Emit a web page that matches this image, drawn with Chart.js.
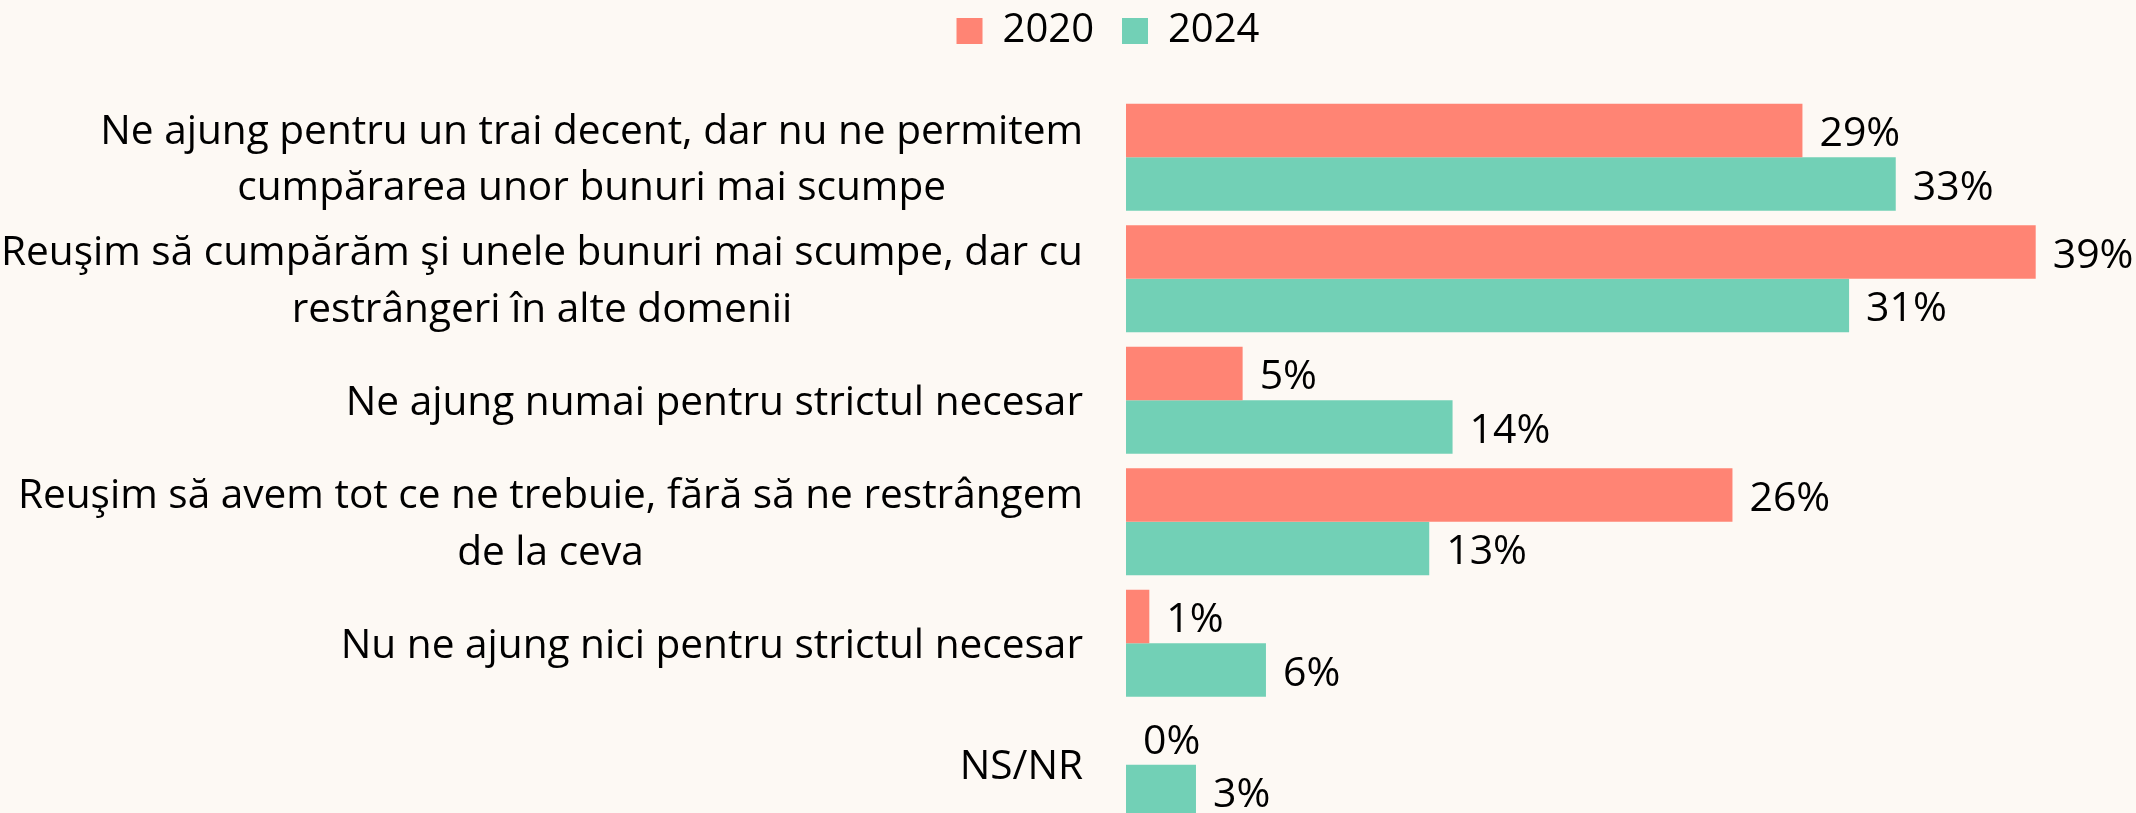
<!DOCTYPE html>
<html>
<head>
<meta charset="utf-8">
<script src="https://cdn.jsdelivr.net/npm/chart.js@4.4.1/dist/chart.umd.min.js"></script>
<style>
  html, body { margin: 0; padding: 0; background: #fdf9f4; overflow: hidden; }
  #wrap { width: 2136px; height: 840px; position: relative; }
</style>
</head>
<body>
<div id="wrap"><canvas id="chart"></canvas></div>
<script>
// Datos
const categories = [
  ['Ne ajung pentru un trai decent, dar nu ne permitem', 'cumpărarea unor bunuri mai scumpe'],
  ['Reuşim să cumpărăm şi unele bunuri mai scumpe, dar cu', 'restrângeri în alte domenii'],
  ['Ne ajung numai pentru strictul necesar'],
  ['Reuşim să avem tot ce ne trebuie, fără să ne restrângem', 'de la ceva'],
  ['Nu ne ajung nici pentru strictul necesar'],
  ['NS/NR']
];
const years      = ['2020', '2024'];
const values2020 = [29, 39, 5, 26, 1, 0];
const values2024 = [33, 31, 14, 13, 6, 3];

const COLORS = ['#ff8474', '#72d0b6'];
const FONT   = '"Open Sans", "Noto Sans", sans-serif';
const LEGEND_PAD = 28;
const TOP_PAD = 11 - LEGEND_PAD;

// legend box height fixed so the plot starts where the original does
const legendHeight = {
  id: 'legendHeight',
  beforeLayout(chart) {
    const lg = chart.legend;
    if (!lg || lg._patched) return;
    const fit = lg.fit;
    lg.fit = function () {
      fit.call(this);
      this.height = 96.5 - TOP_PAD;
    };
    lg._patched = true;
  }
};

// category labels: block right aligned, lines centered inside the block
const sideLabels = {
  id: 'sideLabels',
  afterDraw(chart) {
    const ctx = chart.ctx, y = chart.scales.y;
    const right = chart.chartArea.left - 43;
    ctx.save();
    ctx.font = '40.6px ' + FONT;
    ctx.fillStyle = '#000';
    ctx.textAlign = 'center';
    ctx.textBaseline = 'middle';
    categories.forEach((lines, i) => {
      const cy = y.getPixelForTick(i);
      const w = Math.max(...lines.map(l => ctx.measureText(l).width));
      const cx = right - w / 2;
      lines.forEach((l, j) => {
        ctx.fillText(l, cx, cy + (j - (lines.length - 1) / 2) * 56.5 + 3);
      });
    });
    ctx.restore();
  }
};

// value labels after each bar
const valueLabels = {
  id: 'valueLabels',
  afterDatasetsDraw(chart) {
    const ctx = chart.ctx;
    ctx.save();
    ctx.font = '41px ' + FONT;
    ctx.fillStyle = '#000';
    ctx.textAlign = 'left';
    ctx.textBaseline = 'middle';
    chart.data.datasets.forEach((ds, di) => {
      chart.getDatasetMeta(di).data.forEach((bar, i) => {
        ctx.fillText(ds.data[i] + '%', bar.x + 17, bar.y + 4);
      });
    });
    ctx.restore();
  }
};

new Chart(document.getElementById('chart'), {
  type: 'bar',
  data: {
    labels: categories,
    datasets: [
      { label: years[0], data: values2020, backgroundColor: COLORS[0], borderWidth: 0 },
      { label: years[1], data: values2024, backgroundColor: COLORS[1], borderWidth: 0 }
    ]
  },
  options: {
    indexAxis: 'y',
    responsive: true,
    maintainAspectRatio: false,
    animation: false,
    datasets: { bar: { barPercentage: 1, categoryPercentage: 0.88 } },
    layout: { padding: { top: TOP_PAD, left: 80, right: 0, bottom: 14.5 } },
    plugins: {
      tooltip: { enabled: false },
      legend: {
        position: 'top',
        labels: {
          font: { size: 40, family: FONT },
          color: '#000',
          boxWidth: 26,
          boxHeight: 26,
          padding: LEGEND_PAD
        }
      }
    },
    scales: {
      x: { display: false, min: 0, max: 43.3 },
      y: {
        display: true,
        grid: { display: false },
        border: { display: false },
        ticks: { display: false },
        afterFit(scale) { scale.width = 1046; }
      }
    }
  },
  plugins: [legendHeight, sideLabels, valueLabels]
});
</script>
</body>
</html>
